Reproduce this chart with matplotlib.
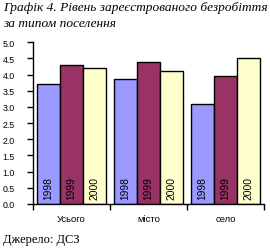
import matplotlib
matplotlib.use("Agg")
import matplotlib.pyplot as plt
import numpy as np

categories = ["Усього", "місто", "село"]
years = ["1998", "1999", "2000"]
values_1998 = [3.7, 3.85, 3.1]
values_1999 = [4.3, 4.4, 3.95]
values_2000 = [4.2, 4.1, 4.5]
y_ticks = [0.0, 0.5, 1.0, 1.5, 2.0, 2.5, 3.0, 3.5, 4.0, 4.5, 5.0]
colors = ["#9999FF", "#993366", "#FFFFCC"]

W, H = 270, 251
fig = plt.figure(figsize=(W/100, H/100), dpi=100)
ax = fig.add_axes([32.7/W, (H-205)/H, (264-32.7)/W, (205-43.3)/H])

x = np.arange(len(categories))
bw = 23/77
series = [values_1998, values_1999, values_2000]
for i, (vals, col, yr) in enumerate(zip(series, colors, years)):
    pos = x + (i-1)*bw
    ax.bar(pos, vals, width=bw, color=col, edgecolor="black", linewidth=1.0, zorder=2)
    for p in pos:
        ax.text(p, 0.14, yr, rotation=90, ha="center", va="bottom",
                fontsize=7.4, family="Liberation Sans", zorder=3)

ax.set_xlim(-0.5, 2.5)
ax.set_ylim(0, 5)
ax.set_yticks(y_ticks)
ax.set_yticklabels([f"{v:.1f}" for v in y_ticks], family="Liberation Sans", fontsize=6.3)
ax.set_xticks([-0.5, 0.5, 1.5, 2.5])
ax.set_xticklabels([])
ax.set_xticks(x, minor=True)
ax.set_xticklabels(categories, minor=True, family="Liberation Sans", fontsize=6.8)
ax.tick_params(axis="x", which="minor", length=0, pad=7)
ax.tick_params(axis="x", which="major", length=4, width=1, direction="out")
ax.tick_params(axis="y", length=4, width=1, direction="out", pad=9)
for s in ["top", "right"]:
    ax.spines[s].set_visible(False)
for s in ["left", "bottom"]:
    ax.spines[s].set_linewidth(1.0)

fig.text(3/W, 1-2.5/H, "Графік 4. Рівень зареєстрованого безробіття\nза типом поселення",
         ha="left", va="top", family="Liberation Serif", style="italic",
         fontsize=9.6, linespacing=1.35)
fig.text(3/W, 1-234/H, "Джерело: ДСЗ", ha="left", va="top",
         family="Liberation Serif", fontsize=9.0)

fig.savefig("out.png", dpi=100)
